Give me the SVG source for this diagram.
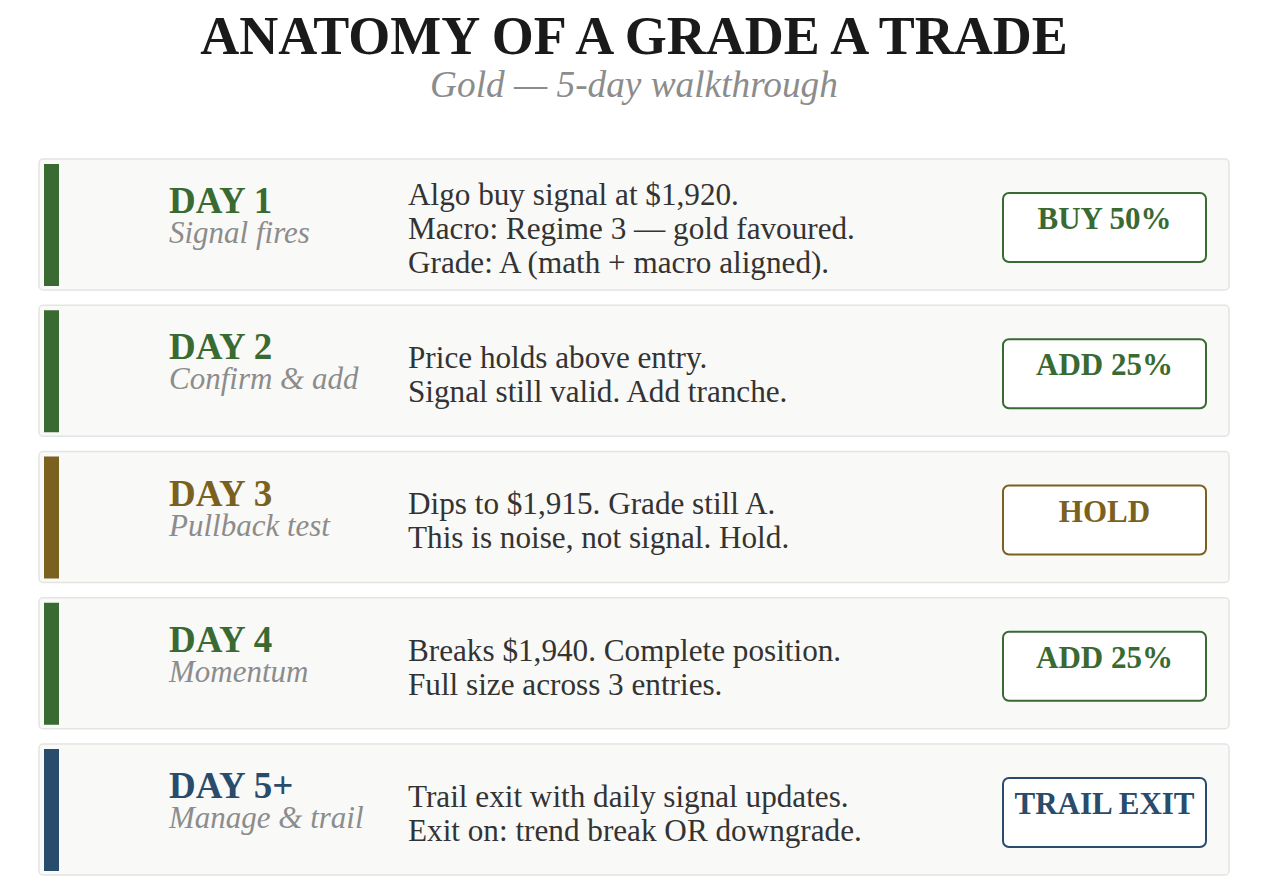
<svg xmlns="http://www.w3.org/2000/svg" width="1267" height="889" viewBox="0 0 1267 889">
<style>
.bg{fill:#ffffff}
.card{fill:#f9f9f7;stroke:#e4e4e2;stroke-width:1.5}
.title{font-family:"Liberation Serif",serif;font-weight:bold;font-size:54px;fill:#1a1a1a;text-anchor:middle}
.sub{font-family:"Liberation Serif",serif;font-style:italic;font-size:37.3px;fill:#8c8c8c;text-anchor:middle}
.day{font-family:"Liberation Serif",serif;font-weight:bold;font-size:37px}
.phase{font-family:"Liberation Serif",serif;font-style:italic;font-size:31px;fill:#8c8c8c}
.body{font-family:"Liberation Serif",serif;font-size:31.2px;fill:#333333}
.act{fill:#ffffff;stroke-width:2}
.acttxt{font-family:"Liberation Serif",serif;font-weight:bold;font-size:31px;text-anchor:middle}
.g{fill:#386a32}.gs{stroke:#386a32}
.o{fill:#7a6120}.os{stroke:#7a6120}
.n{fill:#294b6c}.ns{stroke:#294b6c}
</style>
<rect class="bg" x="0" y="0" width="1267" height="889"/>
<g id="header">
<text class="title" x="634" y="54">ANATOMY OF A GRADE A TRADE</text>
<text class="sub" x="634" y="97">Gold — 5-day walkthrough</text>
</g>
<g id="connectors"></g>
<g id="day1">
<rect class="card" x="39" y="159" width="1190" height="131" rx="4"/>
<rect class="g" x="44" y="164" width="15" height="122"/>
<text class="day g" x="169" y="213">DAY 1</text>
<text class="phase" x="169" y="243">Signal fires</text>
<text class="body" x="408" y="205">Algo buy signal at $1,920.</text>
<text class="body" x="408" y="239">Macro: Regime 3 — gold favoured.</text>
<text class="body" x="408" y="273">Grade: A (math + macro aligned).</text>
<rect class="act gs" x="1003" y="193" width="203" height="69" rx="6"/>
<text class="acttxt g" x="1104.5" y="229">BUY 50%</text>
</g>
<g id="day2">
<rect class="card" x="39" y="305.25" width="1190" height="131" rx="4"/>
<rect class="g" x="44" y="310.25" width="15" height="122"/>
<text class="day g" x="169" y="359.25">DAY 2</text>
<text class="phase" x="169" y="389.25">Confirm &amp; add</text>
<text class="body" x="408" y="368">Price holds above entry.</text>
<text class="body" x="408" y="402">Signal still valid. Add tranche.</text>
<rect class="act gs" x="1003" y="339.25" width="203" height="69" rx="6"/>
<text class="acttxt g" x="1104.5" y="375.25">ADD 25%</text>
</g>
<g id="day3">
<rect class="card" x="39" y="451.5" width="1190" height="131" rx="4"/>
<rect class="o" x="44" y="456.5" width="15" height="122"/>
<text class="day o" x="169" y="505.5">DAY 3</text>
<text class="phase" x="169" y="535.5">Pullback test</text>
<text class="body" x="408" y="514">Dips to $1,915. Grade still A.</text>
<text class="body" x="408" y="548">This is noise, not signal. Hold.</text>
<rect class="act os" x="1003" y="485.5" width="203" height="69" rx="6"/>
<text class="acttxt o" x="1104.5" y="521.5">HOLD</text>
</g>
<g id="day4">
<rect class="card" x="39" y="597.75" width="1190" height="131" rx="4"/>
<rect class="g" x="44" y="602.75" width="15" height="122"/>
<text class="day g" x="169" y="651.75">DAY 4</text>
<text class="phase" x="169" y="681.75">Momentum</text>
<text class="body" x="408" y="661">Breaks $1,940. Complete position.</text>
<text class="body" x="408" y="695">Full size across 3 entries.</text>
<rect class="act gs" x="1003" y="631.75" width="203" height="69" rx="6"/>
<text class="acttxt g" x="1104.5" y="667.75">ADD 25%</text>
</g>
<g id="day5">
<rect class="card" x="39" y="744" width="1190" height="131" rx="4"/>
<rect class="n" x="44" y="749" width="15" height="122"/>
<text class="day n" x="169" y="798">DAY 5+</text>
<text class="phase" x="169" y="828">Manage &amp; trail</text>
<text class="body" x="408" y="807">Trail exit with daily signal updates.</text>
<text class="body" x="408" y="841">Exit on: trend break OR downgrade.</text>
<rect class="act ns" x="1003" y="778" width="203" height="69" rx="6"/>
<text class="acttxt n" x="1104.5" y="814">TRAIL EXIT</text>
</g>
</svg>
